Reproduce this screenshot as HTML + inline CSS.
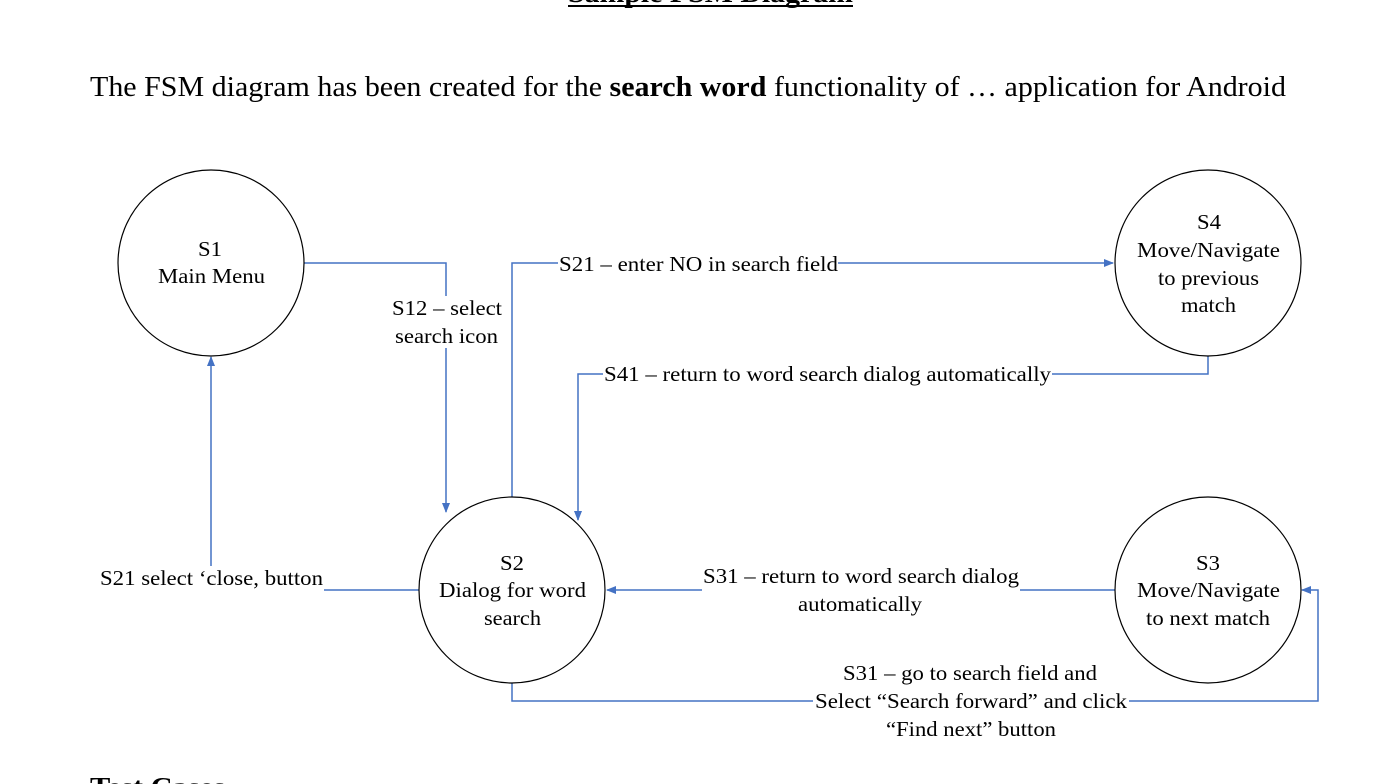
<!DOCTYPE html>
<html><head><meta charset="utf-8"><style>
html,body{margin:0;padding:0;background:#fff;width:1398px;height:784px;overflow:hidden}
svg{display:block}
text{font-family:"Liberation Serif",serif;fill:#000}
</style></head><body>
<svg width="1398" height="784" viewBox="0 0 1398 784">
<defs><marker id="ah" markerWidth="10" markerHeight="8" refX="9" refY="4" orient="auto" markerUnits="userSpaceOnUse"><path d="M0,0 L10,4 L0,8 z" fill="#4472C4"/></marker></defs>
<text x="568" y="2" textLength="285" lengthAdjust="spacingAndGlyphs" font-size="27" font-weight="bold">Sample FSM Diagram</text>
<line x1="568" y1="6" x2="853" y2="6" stroke="#000" stroke-width="2"/>
<text x="90" y="96" font-size="28" textLength="1196" lengthAdjust="spacingAndGlyphs">The FSM diagram has been created for the <tspan font-weight="bold">search word</tspan> functionality of … application for Android</text>
<g fill="none" stroke="#4472C4" stroke-width="1.5">
<polyline points="304,263 446,263 446,512" marker-end="url(#ah)"/>
<polyline points="512,497 512,263 1113,263" marker-end="url(#ah)"/>
<polyline points="1208,356 1208,374 578,374 578,520" marker-end="url(#ah)"/>
<polyline points="1115,590 607,590" marker-end="url(#ah)"/>
<polyline points="419,590 211,590 211,357" marker-end="url(#ah)"/>
<polyline points="512,683 512,701 1318,701 1318,590 1302,590" marker-end="url(#ah)"/>
</g>
<g fill="#fff" stroke="#000" stroke-width="1.2">
<circle cx="211" cy="263" r="93"/>
<circle cx="1208" cy="263" r="93"/>
<circle cx="512" cy="590" r="93"/>
<circle cx="1208" cy="590" r="93"/>
</g>
<g fill="#fff">
<rect x="390" y="296" width="114" height="52"/>
<rect x="558" y="252" width="280" height="24"/>
<rect x="603" y="363" width="449" height="24"/>
<rect x="702" y="566" width="318" height="50"/>
<rect x="98" y="566" width="226" height="28"/>
<rect x="813" y="660" width="316" height="82"/>
</g>
<g font-size="21.5">
<text x="198" y="256" textLength="24" lengthAdjust="spacingAndGlyphs">S1</text><text x="158" y="283" textLength="107" lengthAdjust="spacingAndGlyphs">Main Menu</text>
<text x="1197" y="229" textLength="24" lengthAdjust="spacingAndGlyphs">S4</text><text x="1137" y="257" textLength="143" lengthAdjust="spacingAndGlyphs">Move/Navigate</text><text x="1158" y="285" textLength="101" lengthAdjust="spacingAndGlyphs">to previous</text><text x="1181" y="312" textLength="55" lengthAdjust="spacingAndGlyphs">match</text>
<text x="500" y="570" textLength="24" lengthAdjust="spacingAndGlyphs">S2</text><text x="439" y="597" textLength="147" lengthAdjust="spacingAndGlyphs">Dialog for word</text><text x="484" y="625" textLength="57" lengthAdjust="spacingAndGlyphs">search</text>
<text x="1196" y="570" textLength="24" lengthAdjust="spacingAndGlyphs">S3</text><text x="1137" y="597" textLength="143" lengthAdjust="spacingAndGlyphs">Move/Navigate</text><text x="1146" y="625" textLength="124" lengthAdjust="spacingAndGlyphs">to next match</text>
<text x="392" y="315" textLength="110" lengthAdjust="spacingAndGlyphs">S12 – select</text><text x="395" y="343" textLength="103" lengthAdjust="spacingAndGlyphs">search icon</text>
<text x="559" y="271" textLength="279" lengthAdjust="spacingAndGlyphs">S21 – enter NO in search field</text>
<text x="604" y="381" textLength="447" lengthAdjust="spacingAndGlyphs">S41 – return to word search dialog automatically</text>
<text x="703" y="583" textLength="316" lengthAdjust="spacingAndGlyphs">S31 – return to word search dialog</text><text x="798" y="611" textLength="124" lengthAdjust="spacingAndGlyphs">automatically</text>
<text x="100" y="585" textLength="223" lengthAdjust="spacingAndGlyphs">S21 select ‘close, button</text>
<text x="843" y="680" textLength="254" lengthAdjust="spacingAndGlyphs">S31 – go to search field and</text><text x="815" y="708" textLength="312" lengthAdjust="spacingAndGlyphs">Select “Search forward” and click</text><text x="886" y="736" textLength="170" lengthAdjust="spacingAndGlyphs">“Find next” button</text>
</g>
<text x="90" y="796" font-size="27" font-weight="bold" textLength="135" lengthAdjust="spacingAndGlyphs">Test Cases</text>
</svg>
</body></html>
